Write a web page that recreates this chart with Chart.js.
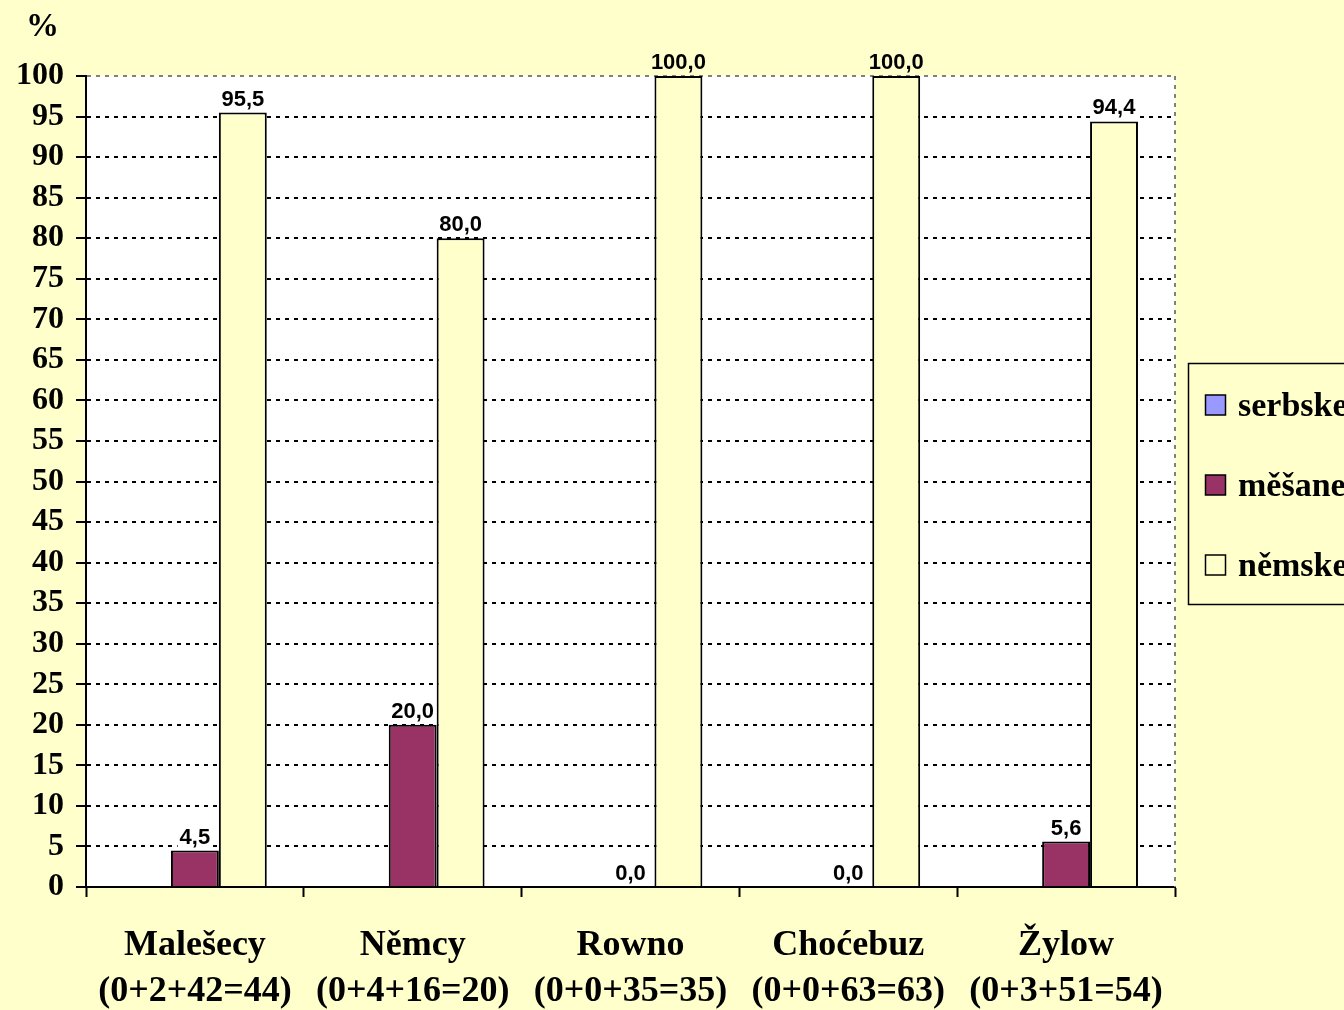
<!DOCTYPE html>
<html>
<head>
<meta charset="utf-8">
<script src="https://cdn.jsdelivr.net/npm/chart.js@4/dist/chart.umd.min.js"></script>
<style>
  html, body { margin: 0; padding: 0; background: #FFFFCC; }
  #wrap { width: 1344px; height: 1010px; position: relative; }
</style>
</head>
<body>
<div id="wrap"><canvas id="myChart" width="1344" height="1010"></canvas></div>
<script>
const places = ['Malešecy', 'Němcy', 'Rowno', 'Choćebuz', 'Žylow'];
const counts = ['(0+2+42=44)', '(0+4+16=20)', '(0+0+35=35)', '(0+0+63=63)', '(0+3+51=54)'];
const serbske = [0, 0, 0, 0, 0];
const mesane = [4.5, 20.0, 0.0, 0.0, 5.6];
const nemske = [95.5, 80.0, 100.0, 100.0, 94.4];
const seriesNames = ['serbske', 'měšane', 'němske'];
const seriesColors = ['#9999FF', '#993366', '#FFFFCC'];

const ctx = document.getElementById('myChart');
const serif = "'Liberation Serif', 'Times New Roman', serif";
const sans = "'Liberation Sans', Arial, sans-serif";

// white plot area + dashed right edge
const plotBg = {
    id: 'plotBg',
    beforeDraw(chart) {
        const a = chart.chartArea;
        const c = chart.ctx;
        c.save();
        c.fillStyle = '#FFFFCC';
        c.fillRect(0, 0, chart.width, chart.height);
        c.fillStyle = '#FFFFFF';
        c.fillRect(a.left, a.top, a.right - a.left, a.bottom - a.top);
        c.restore();
    },
    beforeDatasetsDraw(chart) {
        const a = chart.chartArea;
        const c = chart.ctx;
        c.save();
        c.strokeStyle = '#808080';
        c.lineWidth = 2;
        c.setLineDash([4, 5]);
        c.beginPath();
        c.moveTo(a.right, a.top);
        c.lineTo(a.right, a.bottom);
        c.stroke();
        c.restore();
    }
};

// value labels for měšane and němske
const valueLabels = {
    id: 'valueLabels',
    afterDatasetsDraw(chart) {
        const c = chart.ctx;
        const a = chart.chartArea;
        c.save();
        c.font = 'bold 22px ' + sans;
        c.textAlign = 'center';
        c.textBaseline = 'bottom';
        for (let d = 1; d < 3; d++) {
            const meta = chart.getDatasetMeta(d);
            const vals = chart.data.datasets[d].data;
            for (let i = 0; i < meta.data.length; i++) {
                const bar = meta.data[i];
                const txt = vals[i].toFixed(1).replace('.', ',');
                const w = c.measureText(txt).width;
                const y = bar.y - 2;
                if (y - 20 > a.top) {
                    c.fillStyle = '#FFFFFF';
                    c.fillRect(bar.x - w / 2 - 2, y - 20, w + 4, 20);
                }
                c.fillStyle = '#000000';
                c.fillText(txt, bar.x, y);
            }
        }
        c.restore();
    }
};

// legend box on the right, '%' caption
const sideLegend = {
    id: 'sideLegend',
    afterDraw(chart) {
        const c = chart.ctx;
        c.save();
        c.fillStyle = '#000';
        c.font = 'bold 33px ' + serif;
        c.textBaseline = 'middle';
        c.textAlign = 'left';
        c.fillText('%', 26, 27);

        c.fillStyle = '#FFFFCC';
        c.fillRect(1188.5, 363.5, 200, 241);
        c.strokeStyle = '#000';
        c.lineWidth = 1.5;
        c.strokeRect(1188.5, 363.5, 200, 241);
        c.font = 'bold 34px ' + serif;
        for (let i = 0; i < seriesNames.length; i++) {
            const cy = 405 + i * 80;
            c.fillStyle = seriesColors[i];
            c.fillRect(1205.5, cy - 10, 20, 20);
            c.strokeStyle = '#000';
            c.lineWidth = 1.5;
            c.strokeRect(1205.5, cy - 10, 20, 20);
            c.fillStyle = '#000';
            c.fillText(seriesNames[i], 1238, cy + 2);
        }
        c.restore();
    }
};

const allSeries = [serbske, mesane, nemske];
const datasets = [];
for (let i = 0; i < allSeries.length; i++) {
    datasets.push({
        label: seriesNames[i],
        data: allSeries[i],
        backgroundColor: seriesColors[i],
        borderColor: '#000000',
        borderWidth: 2,
        categoryPercentage: 0.66,
        barPercentage: 1.0
    });
}

const labels = [];
for (let i = 0; i < places.length; i++) {
    labels.push([places[i], counts[i]]);
}

let chart = new Chart(ctx, {
    type: 'bar',
    data: { labels: labels, datasets: datasets },
    plugins: [plotBg, valueLabels, sideLegend],
    options: {
        responsive: false,
        animation: false,
        layout: { padding: { left: 0, top: 76, right: 169, bottom: 0 } },
        plugins: { legend: { display: false }, tooltip: { enabled: false } },
        scales: {
            x: {
                afterFit: s => { s.height = 123; },
                grid: {
                    offset: true,
                    drawOnChartArea: false,
                    drawTicks: true,
                    tickLength: 10,
                    tickColor: '#000',
                    tickWidth: 2
                },
                border: { display: true, color: '#000', width: 2 },
                ticks: {
                    color: '#000',
                    padding: 25,
                    autoSkip: false,
                    maxRotation: 0,
                    font: { family: serif, size: 36, weight: 'bold', lineHeight: 1.3 }
                }
            },
            y: {
                min: 0,
                max: 100,
                afterFit: s => { s.width = 86; },
                grid: {
                    color: c => (c.tick && c.tick.value === 100) ? '#808080' : '#000',
                    lineWidth: 2,
                    drawTicks: true,
                    tickLength: 10,
                    tickColor: '#000',
                    tickWidth: 2
                },
                border: { display: true, color: '#000', width: 2, dash: [4, 5] },
                ticks: {
                    stepSize: 5,
                    autoSkip: false,
                    color: '#000',
                    padding: 12,
                    font: { family: serif, size: 32, weight: 'bold' }
                }
            }
        }
    }
});
</script>
</body>
</html>
